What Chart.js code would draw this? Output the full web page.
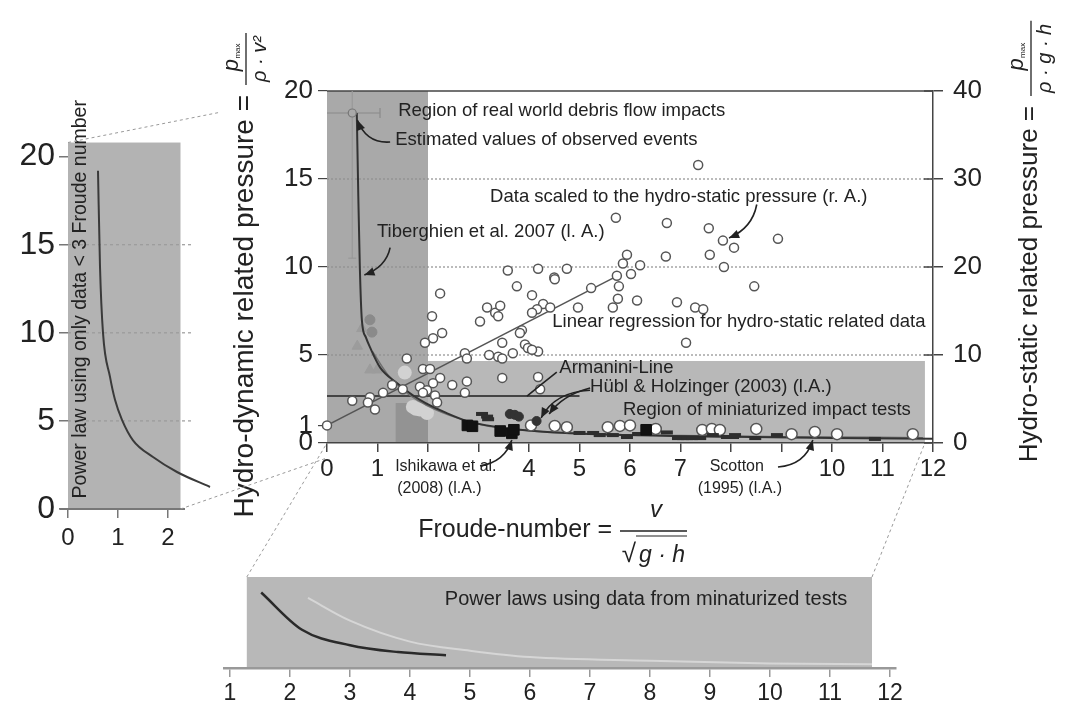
<!DOCTYPE html>
<html>
<head>
<meta charset="utf-8">
<script src="https://cdn.jsdelivr.net/npm/chart.js@4.4.1/dist/chart.umd.min.js"></script>
<style>
  body { margin: 0; background: #fff; }
  #wrap { position: relative; width: 1067px; height: 711px; }
  canvas { position: absolute; left: 0; top: 0; }
</style>
</head>
<body>
<div id="wrap">
  <canvas id="inLeft" width="1067" height="711"></canvas>
  <canvas id="inBottom" width="1067" height="711"></canvas>
  <canvas id="main" width="1067" height="711"></canvas>
</div>
<script>
// ---------- data ----------
const mainXTicks = [0, 1, 2, 3, 4, 5, 6, 7, 8, 9, 10, 11, 12];
const mainYTicks = [0, 1, 5, 10, 15, 20];
const mainY2Ticks = [0, 10, 20, 30, 40];
const mainGridY = [5, 10, 15];

// hydro-static scaled data (right axis)
const hydroStatic = [
  [7.35, 31.6], [5.72, 25.6], [6.73, 25.0], [7.56, 24.4], [7.84, 23.0], [8.06, 22.2], [7.58, 21.4],
  [6.71, 21.2], [5.94, 21.4], [5.86, 20.4], [6.2, 20.2], [7.86, 20.0], [3.58, 19.6], [4.18, 19.8],
  [4.75, 19.8], [4.5, 18.8], [5.74, 19.0], [6.02, 19.2], [8.93, 23.2], [8.46, 17.8],
  [2.24, 17.0], [3.76, 17.8], [4.06, 16.8], [4.51, 18.6], [5.23, 17.6], [5.78, 17.8], [5.76, 16.4],
  [6.14, 16.2], [6.93, 16.0], [7.29, 15.4], [7.45, 15.2], [5.66, 15.4], [4.97, 15.4], [4.28, 15.8],
  [4.16, 15.2], [4.06, 14.8], [4.42, 15.4], [3.17, 15.4], [3.33, 14.8], [3.43, 15.6], [3.39, 14.4],
  [3.03, 13.8], [2.08, 14.4], [2.28, 12.5], [2.1, 11.9], [1.94, 11.4], [3.86, 12.8], [3.82, 12.5],
  [3.47, 11.4], [7.11, 11.4], [3.92, 11.2], [3.98, 10.8], [4.18, 10.4], [4.06, 10.6], [2.73, 10.2],
  [2.77, 9.6], [3.21, 10.0], [3.39, 9.8], [3.47, 9.6], [3.68, 10.2], [1.58, 9.6], [1.9, 8.4],
  [2.04, 8.4], [3.47, 7.4], [4.18, 7.5], [4.22, 6.1], [2.24, 7.4], [2.1, 6.8], [2.48, 6.6],
  [2.77, 7.0], [2.73, 5.7], [1.84, 6.4], [1.98, 6.0], [1.9, 5.7], [2.14, 5.4], [2.18, 4.6],
  [1.29, 6.6], [1.5, 6.1], [1.11, 5.7], [0.85, 5.2], [0.81, 4.6], [0.95, 3.8], [0.5, 4.8], [0, 2.0]
];
const hydroStaticRegression = [[0, 2.0], [5.75, 19.0]];

// miniaturized tests (left axis)
const miniCircles = [
  [4.04, 1.0], [4.51, 0.97], [4.75, 0.9], [5.56, 0.9], [5.8, 0.97], [6.0, 1.0], [6.51, 0.8],
  [7.43, 0.74], [7.62, 0.8], [7.78, 0.74], [8.5, 0.8], [9.2, 0.5], [9.66, 0.63], [10.1, 0.5], [11.6, 0.5]
];
const scottonData = [
  [5.0, 0.57], [5.27, 0.57], [5.4, 0.45], [5.66, 0.45], [5.94, 0.34], [6.16, 0.51], [6.73, 0.6],
  [6.95, 0.28], [7.05, 0.28], [7.13, 0.28], [7.23, 0.28], [7.39, 0.28], [7.64, 0.45], [7.92, 0.34],
  [8.04, 0.34], [8.08, 0.45], [8.48, 0.28], [8.91, 0.45], [10.85, 0.23], [3.07, 1.65], [3.17, 1.5], [3.19, 1.35]
];
const hueblData = [[3.62, 1.65], [3.72, 1.6], [3.8, 1.5], [4.15, 1.25]];
const ishikawaData = [[2.78, 1.0], [2.88, 0.95], [3.43, 0.68], [3.66, 0.55], [3.7, 0.75], [6.32, 0.75]];
const tiberghienTri = [[0.69, 6.5], [0.99, 4.15], [0.85, 4.15], [0.6, 5.5]];
const tiberghienDot = [[0.85, 7.0], [0.89, 6.3]];
const lightBlobs = [[1.54, 4.0], [1.7, 2.05], [1.84, 1.9], [1.98, 1.7], [1.76, 1.95]];
const armaniniLine = [[0, 2.67], [5.0, 2.67]];
const observedEvent = [[0.5, 18.75]];
const observedXErr = [0, 1.05];
const observedYErr = [10.5, 20];

const powerLawMain = [
  [0.59, 18.75], [0.62, 14], [0.65, 10], [0.69, 7.0], [0.77, 6.0], [0.85, 5.45], [1.05, 4.3],
  [1.39, 3.4], [1.84, 2.45], [2.37, 1.7], [2.83, 1.2], [3.68, 0.8], [4.36, 0.63], [6, 0.45],
  [8, 0.35], [10, 0.28], [12, 0.24]
];
const powerLawSecond = [
  [0.9, 5.2], [1.2, 3.9], [1.6, 2.8], [2.0, 2.1], [2.6, 1.4], [3.2, 0.95], [4, 0.7],
  [5.5, 0.5], [7, 0.42], [9, 0.36], [11.8, 0.3]
];

// regions [x0, x1, y0, y1]
const realWorldRegion = [0, 2, 0, 20];
const miniRegion = [0, 11.84, 0, 4.66];
const overlapPatch = [1.36, 2, 0, 2.27];

// left inset
const leftInsetXTicks = [0, 1, 2];
const leftInsetYTicks = [0, 5, 10, 15, 20];
const leftInsetGridY = [5, 10, 15];
const leftInsetRegion = [0, 2.25, 0, 20.8];
const lowFroudePowerLaw = [
  [0.6, 19.2], [0.64, 13.75], [0.7, 10], [0.84, 7.5], [0.94, 6.2], [1.08, 5.06], [1.3, 3.9],
  [1.7, 2.95], [2.18, 2.1], [2.84, 1.25]
];

// bottom inset
const bottomInsetXTicks = [1, 2, 3, 4, 5, 6, 7, 8, 9, 10, 11, 12];
const bottomInsetRegion = [1.28, 11.7, 0, 10];
const miniPowerLawDark = [[1.52, 8.3], [2.2, 4.2], [3.0, 2.5], [3.8, 1.75], [4.6, 1.4]];
const miniPowerLawLight = [[2.3, 7.7], [3, 5.2], [4, 2.9], [5, 1.9], [6, 1.2], [8, 0.8], [10, 0.5], [11.7, 0.4]];

// ---------- helpers ----------
const FONT = "'Liberation Sans', Arial, Helvetica, sans-serif";
Chart.defaults.font.family = FONT;
Chart.defaults.color = '#222';

const xy = arr => arr.map(p => ({ x: p[0], y: p[1] }));
const ticksFrom = list => s => { s.ticks = list.map(v => ({ value: v })); };
const P = (chart, x, y, id) => [chart.scales.x.getPixelForValue(x), chart.scales[id || 'y'].getPixelForValue(y)];

function fillRegion(chart, r, color) {
  const [x0, y0] = P(chart, r[0], r[2]);
  const [x1, y1] = P(chart, r[1], r[3]);
  const ctx = chart.ctx;
  ctx.save();
  ctx.fillStyle = color;
  ctx.fillRect(Math.min(x0, x1), Math.min(y0, y1), Math.abs(x1 - x0), Math.abs(y1 - y0));
  ctx.restore();
}

function line(ctx, a, b, color, width, dash) {
  ctx.save();
  ctx.strokeStyle = color;
  ctx.lineWidth = width;
  ctx.setLineDash(dash || []);
  ctx.beginPath();
  ctx.moveTo(a[0], a[1]);
  ctx.lineTo(b[0], b[1]);
  ctx.stroke();
  ctx.restore();
}

function text(ctx, str, x, y, size, opts) {
  opts = opts || {};
  ctx.save();
  ctx.font = (opts.italic ? 'italic ' : '') + size + 'px ' + FONT;
  ctx.fillStyle = opts.color || '#222';
  ctx.textAlign = opts.align || 'left';
  ctx.textBaseline = 'middle';
  ctx.fillText(str, x, y);
  ctx.restore();
}

function arrow(ctx, p0, p1, p2, head) {
  ctx.save();
  ctx.strokeStyle = '#222';
  ctx.fillStyle = '#222';
  ctx.lineWidth = 1.6;
  ctx.beginPath();
  ctx.moveTo(p0[0], p0[1]);
  ctx.quadraticCurveTo(p1[0], p1[1], p2[0], p2[1]);
  ctx.stroke();
  if (head) {
    const a = Math.atan2(p2[1] - p1[1], p2[0] - p1[0]);
    ctx.beginPath();
    ctx.moveTo(p2[0], p2[1]);
    ctx.lineTo(p2[0] - 11 * Math.cos(a - 0.4), p2[1] - 11 * Math.sin(a - 0.4));
    ctx.lineTo(p2[0] - 11 * Math.cos(a + 0.4), p2[1] - 11 * Math.sin(a + 0.4));
    ctx.closePath();
    ctx.fill();
  }
  ctx.restore();
}

// rotated axis title with a fraction after the "=" sign
function yTitle(ctx, cx, yEnd, label, numSub, den, size) {
  ctx.save();
  ctx.translate(cx, yEnd);
  ctx.rotate(-Math.PI / 2);
  ctx.fillStyle = '#222';
  ctx.textBaseline = 'middle';
  ctx.font = size + 'px ' + FONT;
  ctx.textAlign = 'right';
  ctx.fillText(label, 0, 0);
  ctx.font = 'italic 20px ' + FONT;
  const w = ctx.measureText(den).width + 6;
  const fx = 10;
  ctx.strokeStyle = '#222';
  ctx.lineWidth = 1.3;
  ctx.beginPath();
  ctx.moveTo(fx, 1);
  ctx.lineTo(fx + w, 1);
  ctx.stroke();
  ctx.textAlign = 'center';
  ctx.fillText(den, fx + w / 2, 15);
  ctx.font = 'italic 22px ' + FONT;
  ctx.fillText('p', fx + w / 2 - 6, -13);
  ctx.font = '8px ' + FONT;
  ctx.fillText(numSub, fx + w / 2 + 8, -7);
  ctx.restore();
}

// ---------- left inset ----------
const insetLeftDecor = {
  id: 'insetLeftDecor',
  beforeDraw(chart) {
    fillRegion(chart, leftInsetRegion, '#b3b3b3');
  },
  beforeDatasetsDraw(chart) {
    const ctx = chart.ctx;
    leftInsetGridY.forEach(v => {
      line(ctx, P(chart, 0, v), P(chart, 2.5, v), '#9a9a9a', 1.2, [3, 3]);
    });
    line(ctx, P(chart, -0.17, 0), P(chart, 2.34, 0), '#777', 2);
  },
  afterDatasetsDraw(chart) {
    const ctx = chart.ctx;
    const [x, y] = P(chart, 0.26, 0.6);
    ctx.save();
    ctx.translate(x, y);
    ctx.rotate(-Math.PI / 2);
    text(ctx, 'Power law using only data < 3 Froude number', 0, 0, 19.5);
    ctx.restore();
  }
};

const insetL = new Chart(document.getElementById('inLeft'), {
  type: 'line',
  data: {
    datasets: [{
      data: xy(lowFroudePowerLaw),
      borderColor: '#3a3a3a',
      borderWidth: 2,
      pointRadius: 0,
      cubicInterpolationMode: 'monotone',
      clip: false
    }]
  },
  options: {
    responsive: false,
    animation: false,
    events: [],
    layout: { padding: { left: 4, right: 854, top: 139, bottom: 152 } },
    plugins: { legend: { display: false }, tooltip: { enabled: false } },
    scales: {
      x: {
        type: 'linear', min: 0, max: 2.9,
        afterFit: s => { s.height = 50; },
        afterBuildTicks: ticksFrom(leftInsetXTicks),
        ticks: { font: { size: 24 }, padding: 6, autoSkip: false, maxRotation: 0, callback: v => String(v) },
        grid: { drawOnChartArea: false, tickLength: 9, color: '#777', lineWidth: 1.5 },
        border: { display: false }
      },
      y: {
        type: 'linear', min: 0, max: 21,
        afterFit: s => { s.width = 64; },
        afterBuildTicks: ticksFrom(leftInsetYTicks),
        ticks: { font: { size: 32 }, padding: 4, autoSkip: false, callback: v => String(v) },
        grid: { drawOnChartArea: false, tickLength: 9, color: '#777', lineWidth: 1.5 },
        border: { display: false }
      }
    }
  },
  plugins: [insetLeftDecor]
});

// ---------- bottom inset ----------
const insetBottomDecor = {
  id: 'insetBottomDecor',
  beforeDraw(chart) {
    fillRegion(chart, bottomInsetRegion, '#b8b8b8');
  },
  afterDatasetsDraw(chart) {
    const [x, y] = P(chart, 4.58, 7.5);
    text(chart.ctx, 'Power laws using data from minaturized tests', x, y, 20);
  }
};

const insetB = new Chart(document.getElementById('inBottom'), {
  type: 'line',
  data: {
    datasets: [
      { data: xy(miniPowerLawDark), borderColor: '#2a2a2a', borderWidth: 2.5, pointRadius: 0, cubicInterpolationMode: 'monotone' },
      { data: xy(miniPowerLawLight), borderColor: '#d6d6d6', borderWidth: 2, pointRadius: 0, cubicInterpolationMode: 'monotone' }
    ]
  },
  options: {
    responsive: false,
    animation: false,
    events: [],
    layout: { padding: { left: 224, right: 171, top: 577, bottom: 0 } },
    plugins: { legend: { display: false }, tooltip: { enabled: false } },
    scales: {
      x: {
        type: 'linear', min: 0.9, max: 12.1,
        afterFit: s => { s.height = 43; },
        afterBuildTicks: ticksFrom(bottomInsetXTicks),
        ticks: { font: { size: 23 }, padding: 3, autoSkip: false, maxRotation: 0, callback: v => String(v) },
        grid: { drawOnChartArea: false, tickLength: 9, color: '#999', lineWidth: 1.5 },
        border: { display: true, color: '#999', width: 2.5 }
      },
      y: { type: 'linear', min: 0, max: 10, display: false }
    }
  },
  plugins: [insetBottomDecor]
});

// ---------- main chart ----------
const notes = [
  { t: 'Region of real world debris flow impacts', x: 1.41, y: 18.86 },
  { t: 'Estimated values of observed events', x: 1.35, y: 17.2 },
  { t: 'Data scaled to the hydro-static pressure (r. A.)', x: 3.23, y: 13.98 },
  { t: 'Tiberghien et al. 2007 (l. A.)', x: 0.99, y: 12.0 },
  { t: 'Linear regression for hydro-static related data', x: 4.46, y: 6.88 },
  { t: 'Armanini-Line', x: 4.6, y: 4.26 },
  { t: 'Hübl & Holzinger (2003) (l.A.)', x: 5.21, y: 3.18 },
  { t: 'Region of miniaturized impact tests', x: 5.86, y: 1.88 }
];
const bottomNotes = [
  { lines: ['Ishikawa et al.', '(2008) (l.A.)'], x: 1.35, y: -1.36 },
  { lines: ['Scotton', '(1995) (l.A.)'], x: 7.3, y: -1.36 }
];
const arrows = [
  { p: [[1.25, 17.1], [0.78, 17.0], [0.6, 18.35]], head: true },
  { p: [[1.25, 11.1], [1.17, 10.0], [0.74, 9.55]], head: true },
  { p: [[8.51, 13.55], [8.42, 12.2], [7.96, 11.65]], head: true },
  { p: [[4.55, 4.03], [4.25, 3.35], [3.96, 2.67]], head: false },
  { p: [[5.21, 3.0], [4.5, 2.9], [4.24, 1.42]], head: true },
  { p: [[5.21, 3.12], [4.67, 2.73], [4.4, 1.65]], head: true },
  { p: [[3.03, -1.3], [3.52, -1.08], [3.66, 0.17]], head: true },
  { p: [[8.93, -1.36], [9.47, -1.25], [9.62, 0.17]], head: true }
];

const mainDecor = {
  id: 'mainDecor',
  beforeDraw(chart) {
    fillRegion(chart, miniRegion, '#b8b8b8');
    fillRegion(chart, realWorldRegion, '#a9a9a9');
    fillRegion(chart, overlapPatch, '#939393');
  },
  beforeDatasetsDraw(chart) {
    const ctx = chart.ctx, a = chart.chartArea;
    mainGridY.forEach(v => {
      const y = chart.scales.y.getPixelForValue(v);
      line(ctx, [a.left, y], [a.right, y], '#8f8f8f', 1.2, [2, 2]);
    });
    line(ctx, [a.left, a.top], [a.right, a.top], '#444', 1.5);
    mainY2Ticks.forEach(v => {
      const y = chart.scales.y2.getPixelForValue(v);
      line(ctx, [a.right - 9, y], [a.right, y], '#444', 1.5);
    });
    // error bars of the observed event
    const [ex, ey] = P(chart, observedEvent[0][0], observedEvent[0][1]);
    const [xl] = P(chart, observedXErr[0], 0);
    const [xr] = P(chart, observedXErr[1], 0);
    const [, yt] = P(chart, 0, observedYErr[1]);
    const [, yb] = P(chart, 0, observedYErr[0]);
    line(ctx, [xl, ey], [xr, ey], '#8a8a8a', 1.2);
    line(ctx, [xr, ey - 5], [xr, ey + 5], '#8a8a8a', 1.2);
    line(ctx, [ex, yt], [ex, yb], '#999', 1.2);
    line(ctx, [ex - 4, yb], [ex + 4, yb], '#999', 1.2);
  },
  afterDatasetsDraw(chart) {
    const ctx = chart.ctx;
    notes.forEach(n => {
      const [x, y] = P(chart, n.x, n.y);
      text(ctx, n.t, x, y, 18.5);
    });
    bottomNotes.forEach(n => {
      const [x, y] = P(chart, n.x, n.y);
      ctx.save();
      ctx.fillStyle = '#fff';
      ctx.fillRect(x - 10, y - 11, 116, 46);
      ctx.restore();
      text(ctx, n.lines[0], x + (n.lines[0] === 'Scotton' ? 14 : 0), y, 16);
      text(ctx, n.lines[1], x + 2, y + 22, 16);
    });
    arrows.forEach(ar => {
      const q = ar.p.map(p => P(chart, p[0], p[1]));
      arrow(ctx, q[0], q[1], q[2], ar.head);
    });
  },
  afterDraw(chart) {
    const ctx = chart.ctx, a = chart.chartArea;
    // axis titles
    yTitle(ctx, a.left - 82, 95, 'Hydro-dynamic related pressure =', 'max', 'ρ · v²', 28);
    yTitle(ctx, a.right + 97, 106, 'Hydro-static related pressure =', 'max', 'ρ · g · h', 26);
    const tx = 612, ty = 530;
    text(ctx, 'Froude-number =', tx, ty, 25, { align: 'right' });
    line(ctx, [tx + 8, ty + 1], [tx + 75, ty + 1], '#222', 1.3);
    text(ctx, 'v', tx + 44, ty - 20, 24, { italic: true, align: 'center' });
    text(ctx, '√', tx + 17, ty + 25, 26, { align: 'center' });
    line(ctx, [tx + 24, ty + 6], [tx + 75, ty + 6], '#222', 1.2);
    text(ctx, 'g · h', tx + 50, ty + 26, 23, { italic: true, align: 'center' });
    // connectors between the insets and the main chart
    const dash = [3, 3];
    const l0 = P(insetL, leftInsetRegion[0], leftInsetRegion[3]);
    const m0 = P(chart, 0, 20);
    line(ctx, l0, [l0[0] + (m0[0] - l0[0]) * 0.58, l0[1] + (m0[1] - l0[1]) * 0.58], '#999', 1, dash);
    line(ctx, P(insetL, leftInsetRegion[1], 0), P(chart, 0, -0.85), '#999', 1, dash);
    line(ctx, P(insetB, bottomInsetRegion[0], bottomInsetRegion[3]), P(chart, 0, 0), '#999', 1, dash);
    line(ctx, P(insetB, bottomInsetRegion[1], bottomInsetRegion[3]), P(chart, miniRegion[1], 0), '#999', 1, dash);
  }
};

const pointSet = (data, extra) => Object.assign({
  data: xy(data), showLine: false, clip: false, pointHoverRadius: 0
}, extra);

new Chart(document.getElementById('main'), {
  type: 'line',
  data: {
    datasets: [
      pointSet(lightBlobs, { pointRadius: 7, pointBackgroundColor: '#d2d2d2', pointBorderWidth: 0, order: 9 }),
      pointSet(tiberghienTri, { pointStyle: 'triangle', pointRadius: 6, pointBackgroundColor: '#9c9c9c', pointBorderColor: '#9c9c9c', order: 8 }),
      pointSet(tiberghienDot, { pointRadius: 5, pointBackgroundColor: '#8a8a8a', pointBorderColor: '#8a8a8a', order: 8 }),
      { data: xy(hydroStaticRegression), yAxisID: 'y2', borderColor: '#555', borderWidth: 1.5, pointRadius: 0, order: 7 },
      { data: xy(armaniniLine), borderColor: '#444', borderWidth: 2, pointRadius: 0, order: 7 },
      { data: xy(powerLawSecond), borderColor: '#6e6e6e', borderWidth: 1.5, pointRadius: 0, cubicInterpolationMode: 'monotone', order: 6 },
      { data: xy(powerLawMain), borderColor: '#333', borderWidth: 2, pointRadius: 0, cubicInterpolationMode: 'monotone', clip: false, order: 5 },
      pointSet(observedEvent, { pointRadius: 4, pointBackgroundColor: '#a9a9a9', pointBorderColor: '#777', pointBorderWidth: 1.2, order: 4 }),
      pointSet(hydroStatic, { yAxisID: 'y2', pointRadius: 4.5, pointBackgroundColor: '#fff', pointBorderColor: '#555', pointBorderWidth: 1.5, order: 3 }),
      pointSet(scottonData, { pointStyle: 'line', pointRadius: 6, pointBorderColor: '#2e2e2e', pointBorderWidth: 4, order: 2 }),
      pointSet(miniCircles, { pointRadius: 5.5, pointBackgroundColor: '#fff', pointBorderColor: '#555', pointBorderWidth: 1.5, order: 2 }),
      pointSet(hueblData, { pointRadius: 4.5, pointBackgroundColor: '#333', pointBorderColor: '#333', order: 1 }),
      pointSet(ishikawaData, { pointStyle: 'rect', pointRadius: 7.5, pointBackgroundColor: '#111', pointBorderColor: '#111', order: 0 })
    ]
  },
  options: {
    responsive: false,
    animation: false,
    events: [],
    layout: { padding: { left: 277, right: 64, top: 91, bottom: 223 } },
    plugins: { legend: { display: false }, tooltip: { enabled: false } },
    scales: {
      x: {
        type: 'linear', min: 0, max: 12,
        afterFit: s => { s.height = 45; },
        afterBuildTicks: ticksFrom(mainXTicks),
        ticks: { font: { size: 24 }, padding: 3, autoSkip: false, maxRotation: 0, callback: v => String(v) },
        grid: { drawOnChartArea: false, tickLength: 9, color: '#444', lineWidth: 1.5 },
        border: { display: true, color: '#444', width: 1.5 }
      },
      y: {
        type: 'linear', position: 'left', min: 0, max: 20,
        afterFit: s => { s.width = 50; },
        afterBuildTicks: ticksFrom(mainYTicks),
        ticks: { font: { size: 26 }, padding: 5, autoSkip: false, callback: v => String(v) },
        grid: { drawOnChartArea: false, tickLength: 9, color: '#444', lineWidth: 1.2 },
        border: { display: false }
      },
      y2: {
        type: 'linear', position: 'right', min: 0, max: 40,
        afterFit: s => { s.width = 70; },
        afterBuildTicks: ticksFrom(mainY2Ticks),
        ticks: { font: { size: 26 }, padding: 10, autoSkip: false, callback: v => String(v) },
        grid: { drawOnChartArea: false, tickLength: 10, color: '#444', lineWidth: 1.5 },
        border: { display: true, color: '#444', width: 1.5 }
      }
    }
  },
  plugins: [mainDecor]
});
</script>
</body>
</html>
